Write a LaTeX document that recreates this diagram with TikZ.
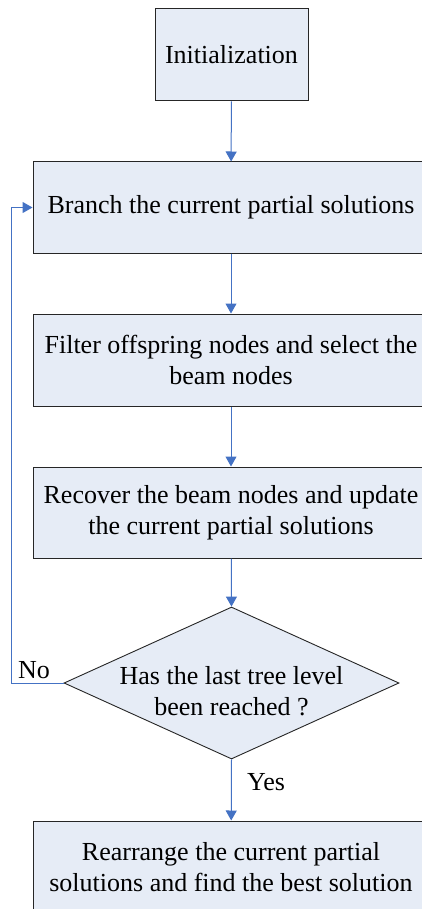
\documentclass[tikz,border=0pt]{standalone}
\usepackage{fontspec}
\setmainfont{Liberation Serif}
\usetikzlibrary{arrows.meta,shapes.geometric}
\definecolor{boxfill}{HTML}{E6ECF6}
\definecolor{flowblue}{HTML}{4472C4}
\tikzset{
  stepbox/.style={draw=black!85, line width=1pt, fill=boxfill, rectangle,
    inner sep=0pt, align=center, font=\fontsize{26}{31}\selectfont},
  decision/.style={draw=black!85, line width=0.9pt, fill=boxfill,
    shape=diamond, aspect=2.2, inner sep=0pt},
  flow/.style={draw=flowblue, line width=1pt,
    -{Triangle[width=11pt,length=10pt]}},
  lbl/.style={font=\fontsize{26}{31}\selectfont, inner sep=0pt, align=center}
}
\begin{document}
\begin{tikzpicture}[x=1pt,y=-1pt]
  \path[use as bounding box] (0,0) rectangle (422,909);
  \clip (0,0) rectangle (422,909);
  \fill[white] (0,0) rectangle (422,909);

  \node[stepbox, minimum width=153pt, minimum height=92pt] (init) at (231.5,55) {Initialization};
  \node[stepbox, minimum width=396pt, minimum height=91pt] (branch) at (231,207.5) {Branch the current partial solutions};
  \node[stepbox, minimum width=396pt, minimum height=92pt] (filter) at (231,360) {Filter offspring nodes and select the\\beam nodes};
  \node[stepbox, minimum width=396pt, minimum height=91pt] (recover) at (231,512.5) {Recover the beam nodes and update\\the current partial solutions};
  \node[decision, minimum width=335pt, minimum height=152pt] (check) at (231.5,683) {};
  \node[lbl] (checktext) at (231.5,691) {Has the last tree level\\been reached ?};
  \node[stepbox, minimum width=396pt, minimum height=92pt] (final) at (231,867) {Rearrange the current partial\\solutions and find the best solution};

  \coordinate (loopA) at (11,683);
  \coordinate (loopB) at (11,207.5);

  \draw[flow] (init) -- (branch);
  \draw[flow] (branch) -- (filter);
  \draw[flow] (filter) -- (recover);
  \draw[flow] (recover) -- (check.north);
  \draw[flow] (check.south) -- (final);
  \draw[flow] (check.west) -- (loopA) -- (loopB) -- (branch.west);

  \node[lbl, anchor=west] (no) at (18,670) {No};
  \node[lbl, anchor=west] (yes) at (247,782) {Yes};
\end{tikzpicture}
\end{document}
